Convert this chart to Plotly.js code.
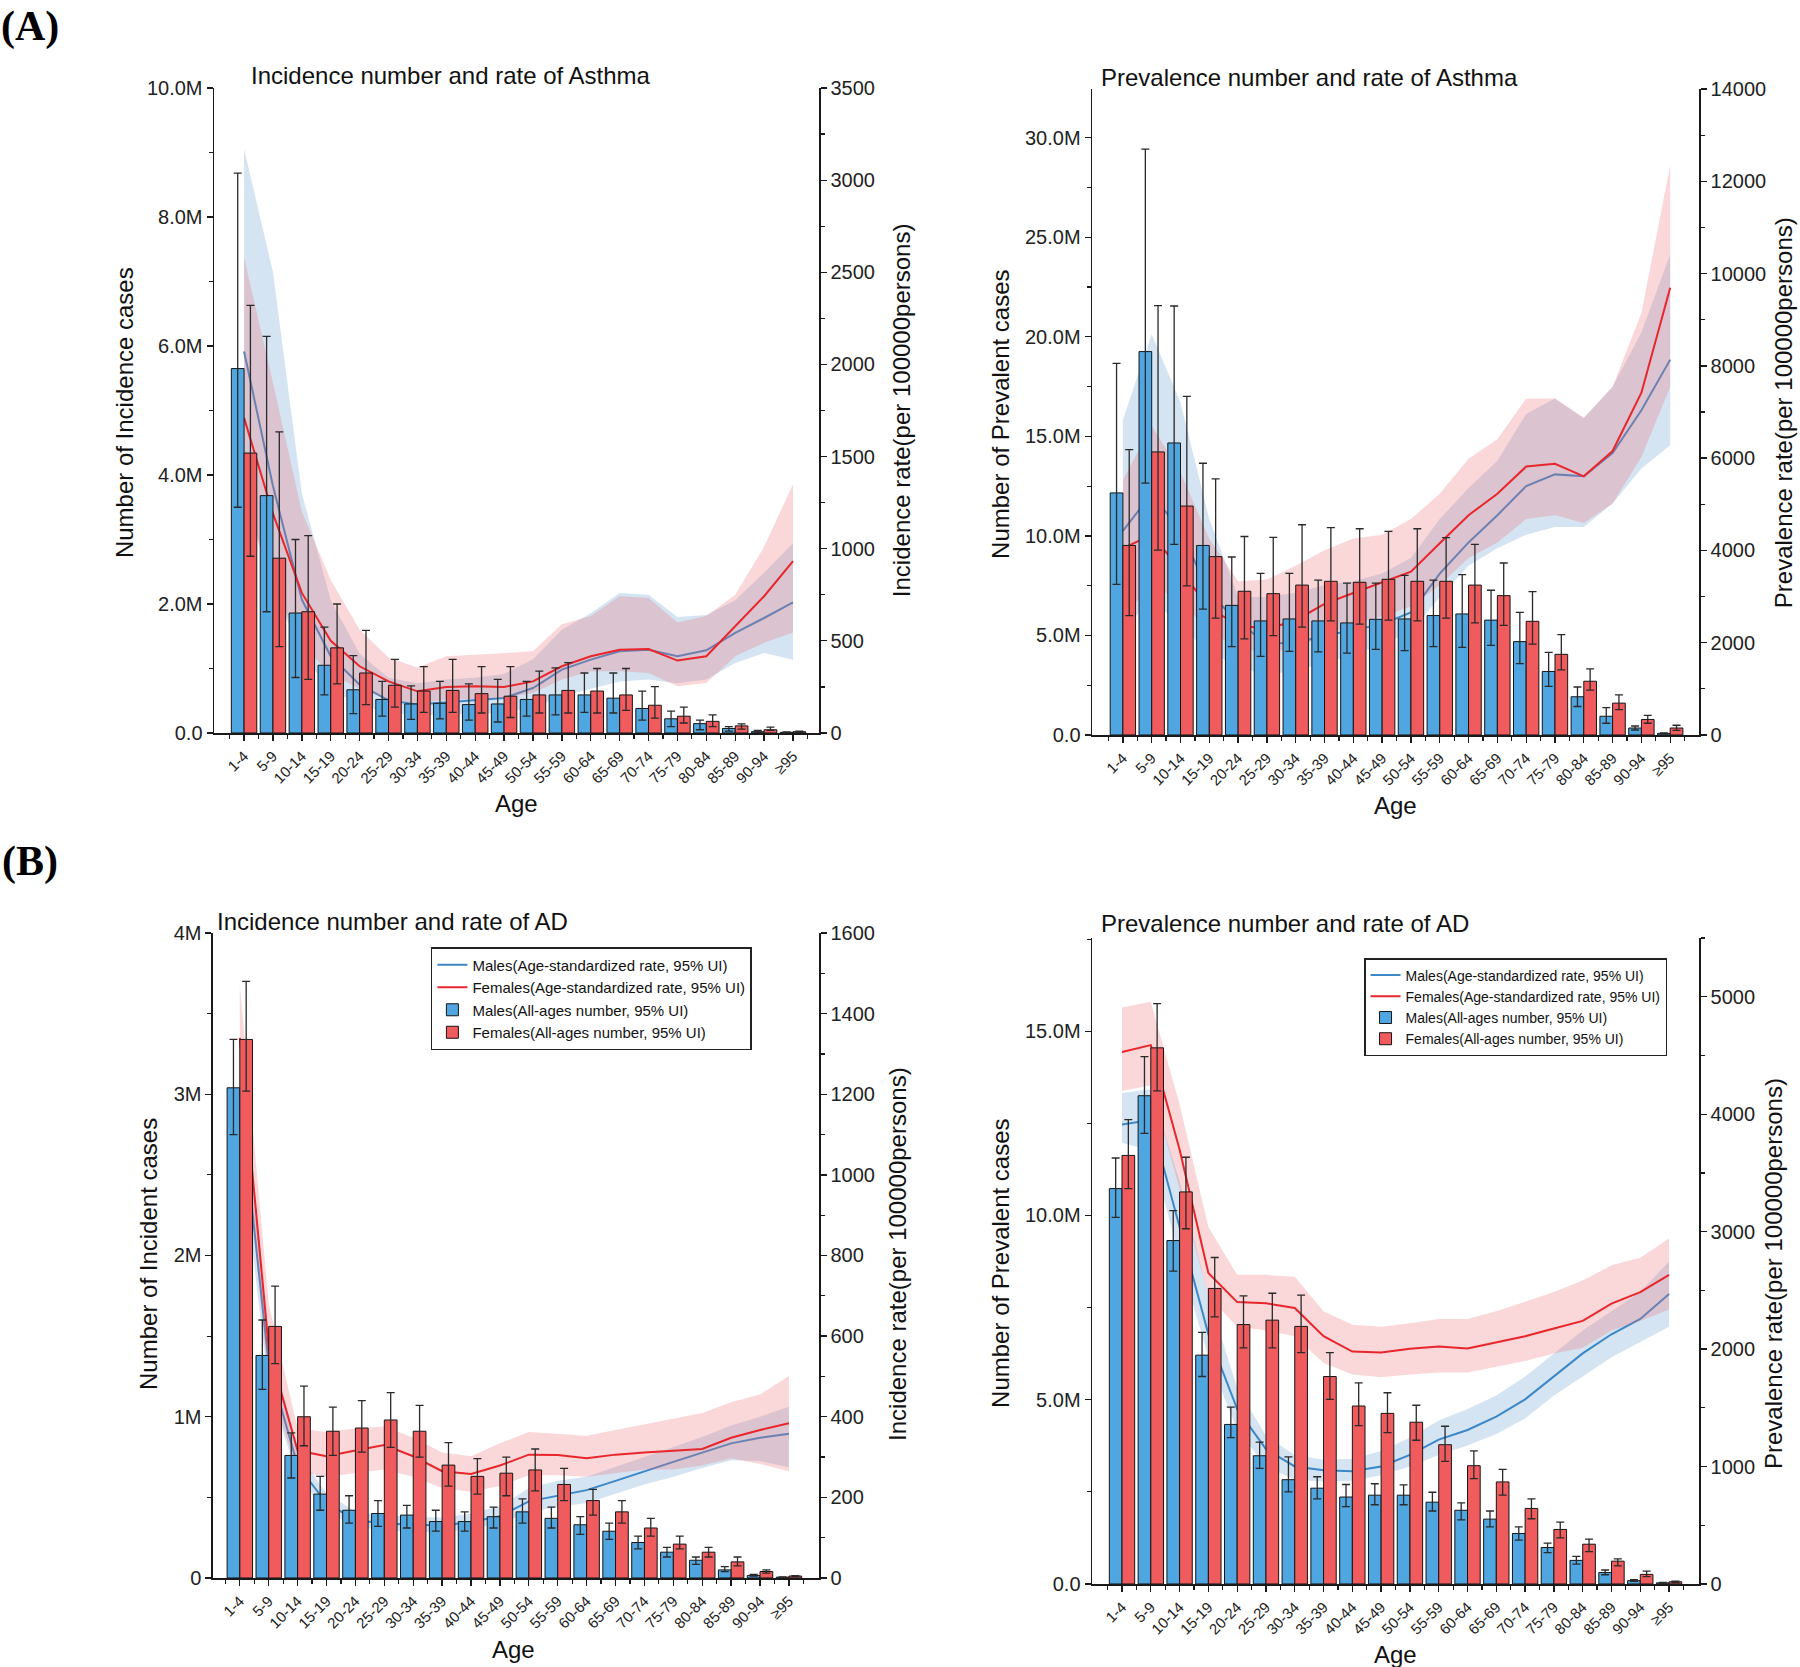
<!DOCTYPE html>
<html>
<head>
<meta charset="utf-8">
<script src="https://cdn.plot.ly/plotly-3.0.1.min.js"></script>
<style>html,body{margin:0;padding:0;background:#fff}#chart{width:1800px;height:1667px}</style>
</head>
<body>
<div id="chart"></div>
<script>
// ---------------- categories & tick labels ----------------
const ageGroups = ['1-4','5-9','10-14','15-19','20-24','25-29','30-34','35-39','40-44','45-49','50-54','55-59','60-64','65-69','70-74','75-79','80-84','85-89','90-94','≥95'];

const incAsthmaCountTicks = [0, 2, 4, 6, 8, 10];
const incAsthmaCountLabels = ['0.0', '2.0M', '4.0M', '6.0M', '8.0M', '10.0M'];
const incAsthmaRateTicks = [0, 500, 1000, 1500, 2000, 2500, 3000, 3500];
const prevAsthmaCountTicks = [0, 5, 10, 15, 20, 25, 30];
const prevAsthmaCountLabels = ['0.0', '5.0M', '10.0M', '15.0M', '20.0M', '25.0M', '30.0M'];
const prevAsthmaRateTicks = [0, 2000, 4000, 6000, 8000, 10000, 12000, 14000];
const incADCountTicks = [0, 1, 2, 3, 4];
const incADCountLabels = ['0', '1M', '2M', '3M', '4M'];
const incADRateTicks = [0, 200, 400, 600, 800, 1000, 1200, 1400, 1600];
const prevADCountTicks = [0, 5, 10, 15];
const prevADCountLabels = ['0.0', '5.0M', '10.0M', '15.0M'];
const prevADRateTicks = [0, 1000, 2000, 3000, 4000, 5000];

// ---------------- (A) Incidence of Asthma ----------------
// numbers in millions, rates per 100000 persons
const incAsthmaMaleN     = [5.65, 3.68, 1.86, 1.05, 0.67, 0.52, 0.45, 0.46, 0.44, 0.45, 0.52, 0.59, 0.59, 0.54, 0.38, 0.22, 0.145, 0.07, 0.02, 0.01];
const incAsthmaMaleNUp   = [8.68, 6.15, 3.0, 1.64, 1.2, 0.8, 0.73, 0.8, 0.76, 0.83, 0.8, 1.01, 0.93, 0.93, 0.65, 0.34, 0.2, 0.1, 0.04, 0.015];
const incAsthmaMaleNLo   = [3.5, 1.88, 0.86, 0.59, 0.3, 0.26, 0.21, 0.22, 0.2, 0.17, 0.26, 0.28, 0.32, 0.31, 0.2, 0.1, 0.05, 0.03, 0.01, 0.005];
const incAsthmaFemaleN   = [4.34, 2.71, 1.88, 1.32, 0.93, 0.74, 0.65, 0.66, 0.61, 0.57, 0.59, 0.66, 0.65, 0.59, 0.43, 0.26, 0.18, 0.11, 0.05, 0.02];
const incAsthmaFemaleNUp = [6.63, 4.67, 3.06, 2.0, 1.59, 1.14, 1.03, 1.14, 1.03, 1.03, 0.96, 1.09, 1.0, 1.0, 0.72, 0.4, 0.28, 0.14, 0.09, 0.03];
const incAsthmaFemaleNLo = [2.74, 1.34, 0.83, 0.76, 0.44, 0.4, 0.32, 0.32, 0.31, 0.24, 0.31, 0.31, 0.31, 0.35, 0.23, 0.155, 0.1, 0.06, 0.04, 0.01];
const incAsthmaMaleRate     = [2070, 1340, 724, 416, 262, 177, 154, 166, 177, 190, 244, 344, 398, 443, 452, 416, 449, 543, 624, 709];
const incAsthmaMaleRateUp   = [3170, 2500, 1300, 720, 430, 300, 270, 290, 300, 320, 400, 560, 650, 760, 750, 630, 640, 720, 870, 1030];
const incAsthmaMaleRateLo   = [1300, 800, 420, 240, 150, 110, 95, 100, 105, 110, 140, 200, 240, 280, 290, 270, 290, 380, 434, 398];
const incAsthmaFemaleRate   = [1710, 1190, 760, 500, 362, 280, 226, 250, 253, 250, 280, 362, 416, 452, 456, 393, 416, 579, 742, 932];
const incAsthmaFemaleRateUp = [2580, 1900, 1200, 830, 560, 410, 356, 416, 425, 434, 443, 590, 635, 742, 733, 600, 635, 750, 1010, 1350];
const incAsthmaFemaleRateLo = [1250, 800, 480, 320, 240, 180, 160, 180, 185, 190, 217, 290, 335, 335, 326, 253, 271, 416, 490, 545];

// ---------------- (A) Prevalence of Asthma ----------------
const prevAsthmaMaleN     = [12.16, 19.26, 14.67, 9.52, 6.51, 5.73, 5.83, 5.73, 5.63, 5.81, 5.83, 6.0, 6.08, 5.77, 4.69, 3.19, 1.92, 0.94, 0.35, 0.08];
const prevAsthmaMaleNUp   = [18.67, 29.43, 21.55, 13.65, 8.94, 8.12, 8.12, 7.78, 7.63, 7.63, 8.02, 7.78, 8.06, 7.27, 6.16, 4.15, 2.41, 1.37, 0.45, 0.1];
const prevAsthmaMaleNLo   = [7.57, 12.65, 9.58, 6.32, 4.44, 3.95, 4.2, 4.17, 4.11, 4.3, 4.24, 4.44, 4.4, 4.5, 3.58, 2.44, 1.43, 0.59, 0.25, 0.05];
const prevAsthmaFemaleN   = [9.52, 14.22, 11.5, 8.96, 7.22, 7.1, 7.53, 7.72, 7.67, 7.82, 7.72, 7.72, 7.53, 7.0, 5.71, 4.05, 2.7, 1.6, 0.78, 0.35];
const prevAsthmaFemaleNUp = [14.33, 21.57, 17.01, 12.87, 9.97, 9.93, 10.56, 10.42, 10.36, 10.23, 10.36, 9.91, 9.58, 8.64, 7.2, 5.04, 3.32, 2.01, 0.98, 0.49];
const prevAsthmaFemaleNLo = [6.0, 9.29, 7.49, 5.87, 4.83, 4.99, 5.42, 5.73, 5.57, 5.77, 5.73, 5.87, 5.63, 5.51, 4.56, 3.27, 2.25, 1.27, 0.59, 0.23];
const prevAsthmaMaleRate     = [4426, 5227, 4426, 3077, 2445, 1981, 1998, 2150, 2276, 2403, 2655, 3498, 4173, 4763, 5395, 5648, 5606, 6112, 7039, 8135];
const prevAsthmaMaleRateUp   = [6828, 8683, 7208, 4679, 2993, 2993, 3080, 3250, 3330, 3500, 3836, 4679, 5353, 5943, 6955, 7292, 6870, 7545, 8725, 10411];
const prevAsthmaMaleRateLo   = [2234, 2993, 2318, 1812, 1475, 1307, 1390, 1560, 1728, 1980, 2234, 2993, 3667, 4046, 4341, 4510, 4510, 5016, 5775, 6280];
const prevAsthmaFemaleRate   = [4046, 4340, 3580, 2740, 2386, 2293, 2487, 2841, 3077, 3313, 3541, 4156, 4763, 5227, 5817, 5876, 5606, 6154, 7418, 9695];
const prevAsthmaFemaleRateUp = [5520, 6700, 5690, 4250, 3330, 3372, 3667, 4004, 4257, 4341, 4679, 5227, 5985, 6407, 7292, 7292, 6870, 7545, 9147, 12350];
const prevAsthmaFemaleRateLo = [2571, 3246, 2908, 2234, 1897, 1770, 1897, 2150, 2403, 2571, 2782, 3246, 3836, 4173, 4679, 4763, 4594, 5016, 6027, 7545];

// ---------------- (B) Incidence of AD ----------------
const incADMaleN     = [3.04, 1.38, 0.76, 0.52, 0.42, 0.40, 0.39, 0.35, 0.35, 0.38, 0.41, 0.37, 0.33, 0.29, 0.22, 0.16, 0.11, 0.05, 0.016, 0.005];
const incADMaleNUp   = [3.34, 1.6, 0.9, 0.63, 0.51, 0.48, 0.45, 0.42, 0.41, 0.44, 0.49, 0.44, 0.38, 0.34, 0.26, 0.19, 0.13, 0.07, 0.022, 0.007];
const incADMaleNLo   = [2.75, 1.17, 0.62, 0.42, 0.34, 0.32, 0.31, 0.29, 0.29, 0.31, 0.34, 0.31, 0.27, 0.24, 0.18, 0.13, 0.085, 0.04, 0.012, 0.003];
const incADFemaleN   = [3.34, 1.56, 1.0, 0.91, 0.93, 0.98, 0.91, 0.70, 0.63, 0.65, 0.67, 0.58, 0.48, 0.41, 0.31, 0.21, 0.16, 0.10, 0.04, 0.012];
const incADFemaleNUp = [3.70, 1.81, 1.19, 1.06, 1.10, 1.15, 1.07, 0.84, 0.74, 0.75, 0.80, 0.68, 0.55, 0.48, 0.37, 0.26, 0.19, 0.13, 0.05, 0.015];
const incADFemaleNLo = [3.02, 1.33, 0.82, 0.76, 0.78, 0.81, 0.75, 0.57, 0.52, 0.51, 0.54, 0.48, 0.39, 0.34, 0.26, 0.18, 0.13, 0.075, 0.03, 0.008];
const incADMaleRate     = [1200, 530, 279, 186, 144, 135, 132, 130, 139, 153, 190, 204, 218, 241, 265, 288, 311, 334, 348, 358];
const incADMaleRateUp   = [1330, 610, 310, 210, 165, 155, 152, 150, 160, 178, 223, 241, 251, 275, 300, 325, 350, 378, 400, 425];
const incADMaleRateLo   = [1080, 470, 250, 165, 128, 118, 115, 113, 122, 135, 163, 176, 186, 209, 232, 251, 273, 292, 290, 275];
const incADFemaleRate   = [1340, 570, 316, 302, 316, 330, 302, 265, 258, 279, 306, 305, 297, 306, 311, 316, 320, 348, 367, 384];
const incADFemaleRateUp = [1470, 680, 371, 362, 371, 376, 348, 311, 302, 334, 362, 358, 353, 367, 381, 395, 409, 436, 455, 501];
const incADFemaleRateLo = [1220, 480, 265, 251, 260, 269, 251, 223, 214, 228, 255, 255, 251, 260, 269, 269, 279, 297, 283, 265];

// ---------------- (B) Prevalence of AD ----------------
const prevADMaleN     = [10.73, 13.25, 9.32, 6.21, 4.33, 3.48, 2.83, 2.60, 2.36, 2.41, 2.41, 2.22, 2.0, 1.76, 1.37, 0.99, 0.64, 0.31, 0.09, 0.03];
const prevADMaleNUp   = [11.56, 14.31, 10.13, 6.83, 4.8, 3.85, 3.45, 2.91, 2.7, 2.72, 2.69, 2.49, 2.2, 1.98, 1.55, 1.11, 0.75, 0.38, 0.12, 0.04];
const prevADMaleNLo   = [9.95, 12.23, 8.49, 5.63, 3.97, 3.14, 2.5, 2.31, 2.1, 2.15, 2.15, 1.98, 1.74, 1.55, 1.19, 0.85, 0.54, 0.25, 0.07, 0.02];
const prevADFemaleN   = [11.63, 14.55, 10.64, 8.02, 7.04, 7.16, 6.99, 5.63, 4.83, 4.63, 4.39, 3.78, 3.21, 2.77, 2.05, 1.48, 1.08, 0.62, 0.26, 0.06];
const prevADFemaleNUp = [12.6, 15.75, 11.58, 8.86, 7.82, 7.89, 7.84, 6.28, 5.46, 5.19, 4.85, 4.28, 3.61, 3.11, 2.31, 1.68, 1.22, 0.68, 0.35, 0.08];
const prevADFemaleNLo = [10.73, 13.38, 9.64, 7.25, 6.41, 6.41, 6.28, 5.01, 4.3, 4.11, 3.9, 3.33, 2.86, 2.41, 1.77, 1.25, 0.88, 0.49, 0.2, 0.04];
const prevADMaleRate     = [3913, 3950, 3039, 2126, 1490, 1148, 1001, 969, 959, 1001, 1099, 1229, 1311, 1425, 1572, 1767, 1963, 2126, 2257, 2469];
const prevADMaleRateUp   = [4181, 4213, 3431, 2452, 1670, 1262, 1099, 1057, 1066, 1132, 1246, 1392, 1490, 1604, 1767, 1963, 2159, 2322, 2485, 2746];
const prevADMaleRateLo   = [3757, 3691, 2778, 1931, 1311, 1001, 887, 871, 880, 926, 1001, 1099, 1180, 1278, 1409, 1604, 1767, 1931, 2061, 2191];
const prevADFemaleRate   = [4530, 4588, 3700, 2648, 2400, 2390, 2350, 2110, 1979, 1970, 2002, 2022, 2006, 2061, 2110, 2175, 2240, 2387, 2485, 2632];
const prevADFemaleRateUp = [4908, 4957, 4083, 3039, 2632, 2632, 2615, 2322, 2208, 2191, 2220, 2257, 2257, 2322, 2403, 2485, 2583, 2713, 2778, 2941];
const prevADFemaleRateLo = [4197, 4246, 3365, 2452, 2191, 2159, 2110, 1882, 1784, 1761, 1784, 1800, 1800, 1849, 1898, 1963, 2012, 2159, 2240, 2338];

// ---------------- styles ----------------
const BLUE_BAR = '#50a6e0', RED_BAR = '#f05b5e';
const BLUE_LINE = '#3b87c8', RED_LINE = '#e8262c';
const BLUE_BAND = 'rgba(120,172,215,0.32)', RED_BAND = 'rgba(238,112,118,0.28)';
const AXC = '#1a1a1a';
const FONT = 'Liberation Sans, Arial, Helvetica, sans-serif';
const SERIF = 'Liberation Serif, Times New Roman, serif';

const xIdx = ageGroups.map((_, i) => i);

const panels = [
  { n: 1, xDom: [0.1189, 0.455], yDom: [0.5603, 0.9472], xRange: [-1.04, 19.9],
    cRange: [0, 10], cTicks: incAsthmaCountTicks, cLabels: incAsthmaCountLabels, cMinor: 1,
    rRange: [0, 3500], rTicks: incAsthmaRateTicks, rMinor: 250,
    mN: incAsthmaMaleN, mNUp: incAsthmaMaleNUp, mNLo: incAsthmaMaleNLo,
    fN: incAsthmaFemaleN, fNUp: incAsthmaFemaleNUp, fNLo: incAsthmaFemaleNLo,
    mR: incAsthmaMaleRate, mRUp: incAsthmaMaleRateUp, mRLo: incAsthmaMaleRateLo,
    fR: incAsthmaFemaleRate, fRUp: incAsthmaFemaleRateUp, fRLo: incAsthmaFemaleRateLo, legend: null },
  { n: 2, xDom: [0.6067, 0.9439], yDom: [0.5591, 0.9466], xRange: [-1.07, 20.0],
    cRange: [0, 32.45], cTicks: prevAsthmaCountTicks, cLabels: prevAsthmaCountLabels, cMinor: 2.5,
    rRange: [0, 14000], rTicks: prevAsthmaRateTicks, rMinor: 1000,
    mN: prevAsthmaMaleN, mNUp: prevAsthmaMaleNUp, mNLo: prevAsthmaMaleNLo,
    fN: prevAsthmaFemaleN, fNUp: prevAsthmaFemaleNUp, fNLo: prevAsthmaFemaleNLo,
    mR: prevAsthmaMaleRate, mRUp: prevAsthmaMaleRateUp, mRLo: prevAsthmaMaleRateLo,
    fR: prevAsthmaFemaleRate, fRUp: prevAsthmaFemaleRateUp, fRLo: prevAsthmaFemaleRateLo, legend: null },
  { n: 3, xDom: [0.1183, 0.455], yDom: [0.0534, 0.4403], xRange: [-0.93, 20.04],
    cRange: [0, 4], cTicks: incADCountTicks, cLabels: incADCountLabels, cMinor: 0.5,
    rRange: [0, 1600], rTicks: incADRateTicks, rMinor: 100,
    mN: incADMaleN, mNUp: incADMaleNUp, mNLo: incADMaleNLo,
    fN: incADFemaleN, fNUp: incADFemaleNUp, fNLo: incADFemaleNLo,
    mR: incADMaleRate, mRUp: incADMaleRateUp, mRLo: incADMaleRateLo,
    fR: incADFemaleRate, fRUp: incADFemaleRateUp, fRLo: incADFemaleRateLo, legend: 'legend' },
  { n: 4, xDom: [0.6067, 0.9439], yDom: [0.0498, 0.4373], xRange: [-1.04, 20.04],
    cRange: [0, 17.53], cTicks: prevADCountTicks, cLabels: prevADCountLabels, cMinor: 2.5,
    rRange: [0, 5500], rTicks: prevADRateTicks, rMinor: 500,
    mN: prevADMaleN, mNUp: prevADMaleNUp, mNLo: prevADMaleNLo,
    fN: prevADFemaleN, fNUp: prevADFemaleNUp, fNLo: prevADFemaleNLo,
    mR: prevADMaleRate, mRUp: prevADMaleRateUp, mRLo: prevADMaleRateLo,
    fR: prevADFemaleRate, fRUp: prevADFemaleRateUp, fRLo: prevADFemaleRateLo, legend: 'legend2' }
];

const traces = [];
const layout = {
  width: 1800, height: 1667,
  margin: { l: 0, r: 0, t: 0, b: 0 },
  paper_bgcolor: '#ffffff', plot_bgcolor: 'rgba(0,0,0,0)',
  font: { family: FONT, color: '#111' },
  barmode: 'overlay',
  showlegend: true,
  annotations: []
};

function band(x, up, lo) {
  return { xs: x.concat(x.slice().reverse()), ys: up.concat(lo.slice().reverse()) };
}

panels.forEach(p => {
  const xa = p.n === 1 ? 'x' : 'x' + p.n;
  const rateId = 2 * p.n - 1, cntId = 2 * p.n;
  const ra = rateId === 1 ? 'y' : 'y' + rateId;
  const ca = 'y' + cntId;
  const show = !!p.legend;
  const lg = p.legend || 'legend';

  const mb = band(xIdx, p.mRUp, p.mRLo);
  const fb = band(xIdx, p.fRUp, p.fRLo);
  traces.push({ type: 'scatter', mode: 'lines', x: mb.xs, y: mb.ys, xaxis: xa, yaxis: ra, fill: 'toself',
    fillcolor: BLUE_BAND, line: { width: 0 }, showlegend: false, hoverinfo: 'skip' });
  traces.push({ type: 'scatter', mode: 'lines', x: xIdx, y: p.mR, xaxis: xa, yaxis: ra,
    line: { color: BLUE_LINE, width: 2 }, name: 'Males(Age-standardized rate, 95% UI)', showlegend: show, legend: lg });
  traces.push({ type: 'scatter', mode: 'lines', x: fb.xs, y: fb.ys, xaxis: xa, yaxis: ra, fill: 'toself',
    fillcolor: RED_BAND, line: { width: 0 }, showlegend: false, hoverinfo: 'skip' });
  traces.push({ type: 'scatter', mode: 'lines', x: xIdx, y: p.fR, xaxis: xa, yaxis: ra,
    line: { color: RED_LINE, width: 2 }, name: 'Females(Age-standardized rate, 95% UI)', showlegend: show, legend: lg });

  const errM = { type: 'data', symmetric: false, array: p.mNUp.map((u, i) => u - p.mN[i]),
    arrayminus: p.mN.map((v, i) => v - p.mNLo[i]), color: '#2a2a2a', thickness: 1.3, width: 4 };
  const errF = { type: 'data', symmetric: false, array: p.fNUp.map((u, i) => u - p.fN[i]),
    arrayminus: p.fN.map((v, i) => v - p.fNLo[i]), color: '#2a2a2a', thickness: 1.3, width: 4 };
  traces.push({ type: 'bar', x: xIdx, y: p.mN, xaxis: xa, yaxis: ca, width: 0.44, offset: -0.44,
    marker: { color: BLUE_BAR, line: { color: '#151515', width: 1 } }, error_y: errM,
    name: 'Males(All-ages number, 95% UI)', showlegend: show, legend: lg });
  traces.push({ type: 'bar', x: xIdx, y: p.fN, xaxis: xa, yaxis: ca, width: 0.44, offset: 0,
    marker: { color: RED_BAR, line: { color: '#151515', width: 1 } }, error_y: errF,
    name: 'Females(All-ages number, 95% UI)', showlegend: show, legend: lg });

  const xKey = p.n === 1 ? 'xaxis' : 'xaxis' + p.n;
  const rKey = rateId === 1 ? 'yaxis' : 'yaxis' + rateId;
  const cKey = 'yaxis' + cntId;
  layout[xKey] = {
    domain: p.xDom, range: p.xRange, anchor: ra, showgrid: false, zeroline: false,
    showline: true, linecolor: AXC, linewidth: 2.5,
    tickmode: 'array', tickvals: xIdx, ticktext: ageGroups, tickangle: -45,
    ticks: 'outside', ticklen: 6, tickwidth: 1.3, tickcolor: AXC,
    minor: { ticks: 'outside', ticklen: 4, tickwidth: 1.2, tickcolor: AXC, tick0: 0.5, dtick: 1 },
    tickfont: { size: 15, family: FONT, color: '#222' }, fixedrange: true
  };
  layout[rKey] = {
    domain: p.yDom, range: p.rRange, anchor: xa, side: 'right', showgrid: false, zeroline: false,
    showline: true, linecolor: AXC, linewidth: 1.5,
    tickmode: 'array', tickvals: p.rTicks, tickformat: 'd',
    ticks: 'outside', ticklen: 6, tickwidth: 1.3, tickcolor: AXC,
    minor: { ticks: 'outside', ticklen: 4, tickwidth: 1.2, tickcolor: AXC, tick0: 0, dtick: p.rMinor },
    tickfont: { size: 20, family: FONT, color: '#222' }, fixedrange: true
  };
  layout[cKey] = {
    overlaying: ra, range: p.cRange, anchor: xa, side: 'left', showgrid: false, zeroline: false,
    showline: true, linecolor: AXC, linewidth: 1.5,
    tickmode: 'array', tickvals: p.cTicks, ticktext: p.cLabels,
    ticks: 'outside', ticklen: 6, tickwidth: 1.3, tickcolor: AXC,
    minor: { ticks: 'outside', ticklen: 4, tickwidth: 1.2, tickcolor: AXC, tick0: 0, dtick: p.cMinor },
    tickfont: { size: 20, family: FONT, color: '#222' }, fixedrange: true
  };
});

layout.legend = {
  x: 0.2394, y: 0.4319, xanchor: 'left', yanchor: 'top', bgcolor: '#ffffff',
  bordercolor: '#222', borderwidth: 1.5, font: { size: 15, family: FONT, color: '#111' },
  itemwidth: 30, tracegroupgap: 0, traceorder: 'normal'
};
layout.legend2 = {
  x: 0.7578, y: 0.4253, xanchor: 'left', yanchor: 'top', bgcolor: '#ffffff',
  bordercolor: '#222', borderwidth: 1.5, font: { size: 14, family: FONT, color: '#111' },
  itemwidth: 30, tracegroupgap: 0, traceorder: 'normal'
};

// ---------------- text annotations ----------------
function ann(text, x, y, opts) {
  return Object.assign({ text: text, x: x, y: y, xref: 'paper', yref: 'paper', showarrow: false,
    xanchor: 'center', yanchor: 'middle', font: { size: 24, family: FONT, color: '#111' } }, opts || {});
}
const titleTexts = ['Incidence number and rate of Asthma', 'Prevalence number and rate of Asthma',
                    'Incidence number and rate of AD', 'Prevalence number and rate of AD'];
const leftTitles = ['Number of Incidence cases', 'Number of Prevalent cases', 'Number of Incident cases', 'Number of Prevalent cases'];
const rightTitles = ['Incidence rate(per 100000persons)', 'Prevalence rate(per 100000persons)',
                     'Incidence rate(per 100000persons)', 'Prevalence rate(per 100000persons)'];
const xTitle = 'Age';
const panelLabels = ['(A)', '(B)'];

const A = layout.annotations;
A.push(ann('<b>' + panelLabels[0] + '</b>', 0.0, 0.9990, { xanchor: 'left', yanchor: 'top', borderpad: 0,
  font: { size: 42, family: SERIF, color: '#000' } }));
A.push(ann('<b>' + panelLabels[1] + '</b>', 0.0, 0.4835, { xanchor: 'left',
  font: { size: 42, family: SERIF, color: '#000' } }));
A.push(ann(titleTexts[0], 0.1383, 0.9550, { xanchor: 'left' }));
A.push(ann(titleTexts[1], 0.6106, 0.9538, { xanchor: 'left' }));
A.push(ann(titleTexts[2], 0.1194, 0.4475, { xanchor: 'left' }));
A.push(ann(titleTexts[3], 0.6106, 0.4463, { xanchor: 'left' }));
A.push(ann(leftTitles[0], 0.0689, 0.7522, { textangle: -90 }));
A.push(ann(rightTitles[0], 0.5006, 0.7540, { textangle: -90 }));
A.push(ann(leftTitles[1], 0.5561, 0.7517, { textangle: -90 }));
A.push(ann(rightTitles[1], 0.9906, 0.7522, { textangle: -90 }));
A.push(ann(leftTitles[2], 0.0828, 0.2478, { textangle: -90 }));
A.push(ann(rightTitles[2], 0.4989, 0.2478, { textangle: -90 }));
A.push(ann(leftTitles[3], 0.5561, 0.2424, { textangle: -90 }));
A.push(ann(rightTitles[3], 0.9856, 0.2358, { textangle: -90 }));
A.push(ann(xTitle, 0.2872, 0.5177));
A.push(ann(xTitle, 0.7750, 0.5165));
A.push(ann(xTitle, 0.2850, 0.0102));
A.push(ann(xTitle, 0.7750, 0.0072));

Plotly.newPlot('chart', traces, layout, { staticPlot: true, displayModeBar: false });
</script>
</body>
</html>
